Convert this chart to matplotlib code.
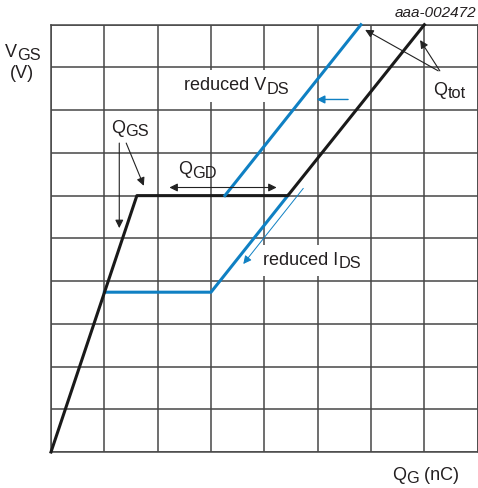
import matplotlib
matplotlib.use("Agg")
import matplotlib.pyplot as plt

plt.rcParams['font.family'] = ['Liberation Sans', 'DejaVu Sans']

##################
# data (grid units: 8 divisions of Q_G, 10 divisions of V_GS)
##################
qg_nominal = [0, 1.61, 4.44, 7.0]
vgs_nominal = [0, 6, 6, 10]

qg_red_ids = [1.0, 3.0, 4.44]
vgs_red_ids = [3.74, 3.74, 6]

qg_red_vds = [3.26, 5.81]
vgs_red_vds = [6, 10]

# annotation arrows: (x_from, y_from, x_to, y_to)
qgs_arrows = [(1.28, 7.23, 1.28, 5.24), (1.41, 7.23, 1.74, 6.23)]
qtot_arrows = [(7.26, 8.92, 5.89, 9.88), (7.29, 8.92, 6.92, 9.64)]
qgd_span = (2.22, 4.23, 6.19)
vds_arrow = (5.57, 8.25, 4.98, 8.25)
ids_arrow = (4.73, 6.17, 3.605, 4.40)

BLUE = '#0f80c3'
GRID = '#474747'
TXT = '#231f20'

fig = plt.figure(figsize=(4.78, 4.88), dpi=100)
ax = fig.add_axes([51 / 478, 36 / 488, 426.7 / 478, 427.3 / 488])
ax.set_xlim(0, 8)
ax.set_ylim(0, 10)
ax.set_xticks(range(9))
ax.set_yticks(range(11))
ax.tick_params(length=0, labelbottom=False, labelleft=False)
ax.grid(True, color=GRID, lw=1.1)
ax.set_axisbelow(True)
for s in ax.spines.values():
    s.set_color(GRID)
    s.set_linewidth(1.1)

ax.plot(qg_nominal, vgs_nominal, color='#1a1a1a', lw=2.2, zorder=4, clip_on=False)
ax.plot(qg_red_ids, vgs_red_ids, color=BLUE, lw=2.2, zorder=3, clip_on=False)
ax.plot(qg_red_vds, vgs_red_vds, color=BLUE, lw=2.2, zorder=5, clip_on=False)

arrow_k = dict(arrowstyle='-|>', color='#222222', lw=0.8, mutation_scale=12,
               shrinkA=0, shrinkB=0)
for x0, y0, x1, y1 in qgs_arrows + qtot_arrows:
    ax.annotate('', xy=(x1, y1), xytext=(x0, y0), arrowprops=arrow_k, zorder=6)
ax.annotate('', xy=(qgd_span[0], qgd_span[2]), xytext=(qgd_span[1], qgd_span[2]),
            arrowprops=dict(arrow_k, arrowstyle='<|-|>'), zorder=6)
blue_k = dict(arrow_k, color=BLUE)
ax.annotate('', xy=vds_arrow[2:], xytext=vds_arrow[:2], arrowprops=dict(blue_k, lw=1.0), zorder=6)
ax.annotate('', xy=ids_arrow[2:], xytext=ids_arrow[:2], arrowprops=dict(blue_k, lw=0.7), zorder=6)

fs = 13
fs_sub = 11.8


def sub_label(x, y, main, sub, tail='', box=None):
    # main text, then a lowered subscript, then optional tail
    t = ax.text(x, y, main, fontsize=fs, ha='left', va='center', color=TXT,
                zorder=7, clip_on=False)
    s = ax.annotate(sub, xy=(1, 0.5), xycoords=t, xytext=(0.3, -2.6),
                    textcoords='offset points', fontsize=fs_sub, ha='left',
                    va='center', color=TXT, zorder=7)
    if tail:
        ax.annotate(tail, xy=(1, 0.5), xycoords=s, xytext=(0, 2.6),
                    textcoords='offset points', fontsize=fs, ha='left',
                    va='center', color=TXT, zorder=7)
    if box is not None:
        ax.add_patch(plt.Rectangle(box[:2], box[2], box[3], facecolor='white',
                                   edgecolor='none', zorder=6.5))


sub_label(1.125, 7.58, 'Q', 'GS')
sub_label(2.38, 6.6, 'Q', 'GD')
sub_label(2.49, 8.57, 'reduced V', 'DS', box=(2.43, 8.2, 2.0, 0.75))
sub_label(3.97, 4.49, 'reduced I', 'DS', box=(3.92, 4.12, 2.0, 0.72))
sub_label(7.16, 8.47, 'Q', 'tot')
sub_label(6.39, -0.54, 'Q', 'G', tail=' (nC)')
sub_label(-0.86, 9.36, 'V', 'GS')
ax.text(-0.77, 8.85, '(V)', fontsize=fs, ha='left', va='center', color=TXT,
        clip_on=False)
ax.text(7.97, 10.27, 'aaa-002472', fontsize=11, style='italic', ha='right', va='center',
        color=TXT, clip_on=False)

fig.savefig('out.png', dpi=100)
